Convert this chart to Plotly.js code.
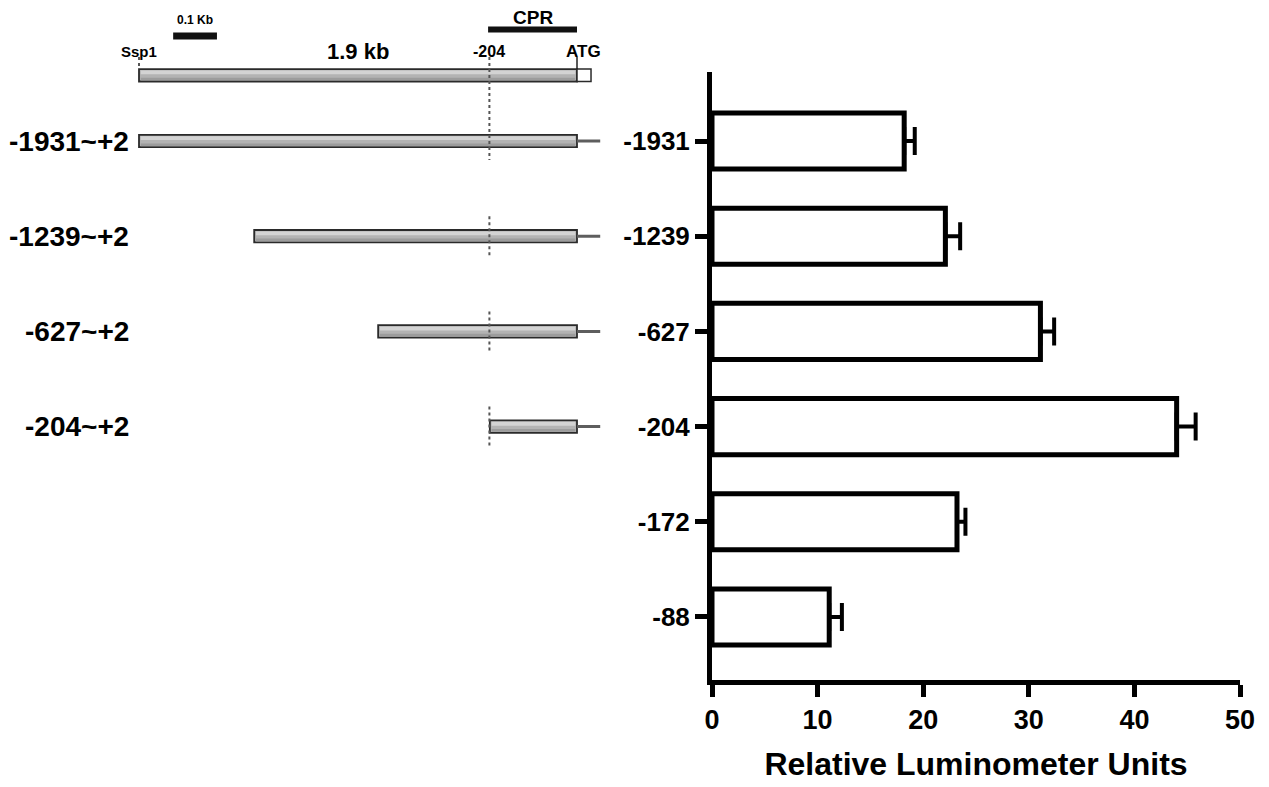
<!DOCTYPE html>
<html>
<head>
<meta charset="utf-8">
<script src="https://cdn.plot.ly/plotly-3.0.1.min.js"></script>
<style>html,body{margin:0;padding:0;background:#fff;}#chart{width:1269px;height:787px;}</style>
</head>
<body>
<div id="chart"></div>
<script>
// ---- bar chart data ----
const cats = ['-1931', '-1239', '-627', '-204', '-172', '-88'];
const rlu = [18.2, 22.1, 31.1, 44.0, 23.2, 11.1];
const rluErr = [1.0, 1.4, 1.3, 1.8, 0.8, 1.2];
const xTicks = [0, 10, 20, 30, 40, 50];

// ---- promoter map data (map is not to scale: Ssp1 = 0, ATG = 100 map units) ----
const constructs = ['-1931~+2', '-1239~+2', '-627~+2', '-204~+2'];
const constructRow = [0, 1, 2, 3];
const mapStart = [0, 26.3, 54.6, 80.1];
const mapATG = 100;
const mapTail = 105.3;
const mapBoxEnd = 103.2;
const site204 = 80;
const scaleBar = [7.8, 17.8];
const cprBar = [79.7, 100];
const topRow = -0.69;

const FONT = 'Liberation Sans, Arial, Helvetica, sans-serif';
const B = (size) => ({family: FONT, size: size, color: '#000', weight: 'bold'});

const traces = [];

// relative luminometer bars
traces.push({
  type: 'bar', orientation: 'h', y: cats, x: rlu, xaxis: 'x', yaxis: 'y',
  width: 0.59,
  marker: {color: '#ffffff', line: {color: '#000', width: 5}},
  error_x: {type: 'data', symmetric: false, array: rluErr, arrayminus: rluErr.map(() => 0),
            color: '#000', thickness: 4, width: 14},
  hoverinfo: 'x+y', showlegend: false
});

// construct tails (after ATG)
const tx = [], ty = [];
constructRow.forEach(r => { tx.push(mapATG, mapTail, null); ty.push(r, r, null); });
traces.push({type: 'scatter', mode: 'lines', x: tx, y: ty, xaxis: 'x2', yaxis: 'y2',
  line: {color: '#5e5e5e', width: 3}, hoverinfo: 'skip', showlegend: false});

// rows of the map: top full map + constructs
const allRows = [topRow].concat(constructRow);
const allStart = [0].concat(mapStart);

// main bars
traces.push({
  type: 'bar', orientation: 'h', y: allRows, base: allStart,
  x: allStart.map(s => mapATG - s), xaxis: 'x2', yaxis: 'y2', width: 0.13,
  marker: {color: '#b3b3b3', line: {color: '#2a2a2a', width: 1.8}},
  hoverinfo: 'skip', showlegend: false
});
// light upper strip (gradient imitation)
traces.push({
  type: 'bar', orientation: 'h', y: allRows, base: allStart.map(s => s + 0.4),
  x: allStart.map(s => mapATG - s - 0.8), xaxis: 'x2', yaxis: 'y2', width: 0.04, offset: -0.05,
  marker: {color: '#d3d3d3', line: {width: 0}},
  hoverinfo: 'skip', showlegend: false
});
// darker lower strip
traces.push({
  type: 'bar', orientation: 'h', y: allRows, base: allStart.map(s => s + 0.4),
  x: allStart.map(s => mapATG - s - 0.8), xaxis: 'x2', yaxis: 'y2', width: 0.03, offset: 0.025,
  marker: {color: '#9c9c9c', line: {width: 0}},
  hoverinfo: 'skip', showlegend: false
});
// white box after ATG on top map
traces.push({
  type: 'bar', orientation: 'h', y: [topRow], base: [mapATG],
  x: [mapBoxEnd - mapATG], xaxis: 'x2', yaxis: 'y2', width: 0.13,
  marker: {color: '#ffffff', line: {color: '#2a2a2a', width: 1.5}},
  hoverinfo: 'skip', showlegend: false
});

// dotted -204 lines
const dx = [site204, site204, null], dy = [-0.882, 0.2, null];
constructRow.slice(1).forEach(r => { dx.push(site204, site204, null); dy.push(r - 0.21, r + 0.21, null); });
dx.push(0, 0, null); dy.push(-0.882, topRow - 0.065, null);
traces.push({type: 'scatter', mode: 'lines', x: dx, y: dy, xaxis: 'x2', yaxis: 'y2',
  line: {color: '#555', width: 2, dash: 'dot'}, hoverinfo: 'skip', showlegend: false});

// ATG tick
traces.push({type: 'scatter', mode: 'lines', x: [mapATG, mapATG], y: [-0.882, topRow - 0.065],
  xaxis: 'x2', yaxis: 'y2', line: {color: '#222', width: 1.5}, hoverinfo: 'skip', showlegend: false});

// scale bar and CPR bar
traces.push({type: 'scatter', mode: 'lines', x: scaleBar, y: [-1.103, -1.103],
  xaxis: 'x2', yaxis: 'y2', line: {color: '#111', width: 7}, hoverinfo: 'skip', showlegend: false});
traces.push({type: 'scatter', mode: 'lines', x: cprBar, y: [-1.171, -1.171],
  xaxis: 'x2', yaxis: 'y2', line: {color: '#111', width: 6}, hoverinfo: 'skip', showlegend: false});

const ann = [];
constructs.forEach((c, i) => ann.push({xref: 'x2', yref: 'y2', x: -1.8, y: constructRow[i], text: c,
  showarrow: false, xanchor: 'right', yanchor: 'middle', font: B(28)}));
ann.push({xref: 'x2', yref: 'y2', x: 0, y: -0.94, text: 'Ssp1', showarrow: false, font: B(15)});
ann.push({xref: 'x2', yref: 'y2', x: 50, y: -0.935, text: '1.9 kb', showarrow: false, font: B(22)});
ann.push({xref: 'x2', yref: 'y2', x: site204, y: -0.94, text: '-204', showarrow: false, font: B(16)});
ann.push({xref: 'x2', yref: 'y2', x: 101.4, y: -0.94, text: 'ATG', showarrow: false, font: B(17)});
ann.push({xref: 'x2', yref: 'y2', x: (scaleBar[0] + scaleBar[1]) / 2, y: -1.27, text: '0.1 Kb', showarrow: false, font: B(12)});
ann.push({xref: 'x2', yref: 'y2', x: (cprBar[0] + cprBar[1]) / 2, y: -1.30, text: 'CPR', showarrow: false, font: B(19)});

const layout = {
  width: 1269, height: 787,
  margin: {l: 0, r: 0, t: 0, b: 0},
  paper_bgcolor: '#fff', plot_bgcolor: 'rgba(0,0,0,0)',
  barmode: 'overlay', showlegend: false,
  xaxis: {
    domain: [712 / 1269, 1240 / 1269], range: [0, 50], anchor: 'y',
    tickvals: xTicks, ticktext: xTicks.map(String),
    showline: true, linewidth: 5, linecolor: '#000',
    ticks: 'outside', ticklen: 12, tickwidth: 5, tickcolor: '#000',
    showgrid: false, zeroline: false, tickfont: B(27),
    title: {text: 'Relative Luminometer Units', font: B(32), standoff: 20}
  },
  yaxis: {
    domain: [(787 - 680) / 787, (787 - 72) / 787], type: 'category', anchor: 'x',
    range: [5.662, -0.725], autorange: false,
    showline: true, linewidth: 5, linecolor: '#000',
    ticks: 'outside', ticklen: 12, tickwidth: 5, tickcolor: '#000',
    showgrid: false, zeroline: false, tickfont: B(26)
  },
  xaxis2: {domain: [0, 0.5], range: [-139 / 4.38, (634.5 - 139) / 4.38], anchor: 'y2',
    visible: false, showgrid: false, zeroline: false},
  yaxis2: {domain: [0, 1], range: [646 / 95.2, -141 / 95.2], anchor: 'x2',
    visible: false, showgrid: false, zeroline: false},
  annotations: ann
};

Plotly.newPlot('chart', traces, layout, {displayModeBar: false, staticPlot: true});
</script>
</body>
</html>
